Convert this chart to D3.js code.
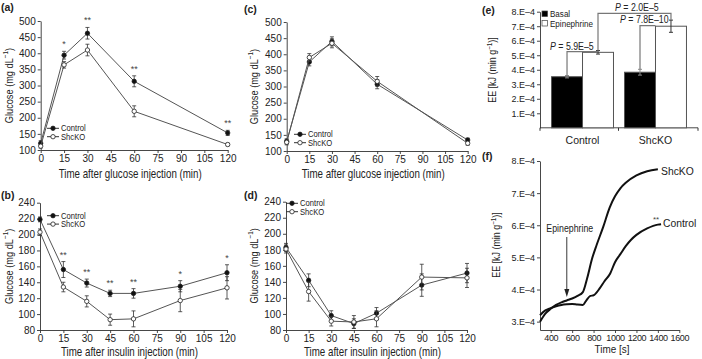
<!DOCTYPE html>
<html>
<head>
<meta charset="utf-8">
<script src="https://cdn.jsdelivr.net/npm/d3@7"></script>
<style>
  body { margin: 0; background: #fff; }
  svg { display: block; font-family: "Liberation Sans", Arial, sans-serif; }
</style>
</head>
<body>
<svg id="fig" width="702" height="359"></svg>
<script>
// ---- data ----
const timesGTT = [0, 15, 30, 60, 120]
const timesITT = [0, 15, 30, 45, 60, 90, 120]

// (a) GTT
const ctrlA = [121, 394, 462, 313, 153]
const ctrlAErr = [8, 12, 18, 17, 8]
const koA = [112, 364, 410, 220, 117]
const koAErr = [6, 10, 18, 17, 4]
const starsA = ["", "*", "**", "**", "**"]

// (b) ITT
const ctrlB = [219, 156, 139, 126, 126, 135, 152]
const ctrlBErr = [3, 10, 5, 4, 6, 7, 10]
const koB = [203, 134, 116, 93, 94, 117, 133]
const koBErr = [4, 6, 7, 7, 10, 14, 14]
const starsB = ["", "**", "**", "**", "**", "*", "*"]

// (c) GTT
const ctrlC = [130, 376, 440, 307, 134]
const ctrlCErr = [8, 12, 14, 14, 6]
const koC = [127, 390, 434, 316, 124]
const koCErr = [8, 12, 14, 15, 6]

// (d) ITT
const ctrlD = [183, 142, 98, 88, 101, 136, 151]
const ctrlDErr = [5, 8, 6, 6, 7, 14, 12]
const koD = [181, 128, 91, 90, 94, 146, 145]
const koDErr = [5, 12, 6, 8, 10, 16, 12]

// (e) energy expenditure bars
const groupsE = ["Control", "ShcKO"]
const basalE = [3.52e-4, 3.83e-4]
const basalEErr = [0.08e-4, 0.2e-4]
const epiE = [5.2e-4, 7.0e-4]
const epiEErr = [0.12e-4, 0.42e-4]
const pLabels = ["P = 5.9E\u20135", "P = 2.0E\u20135", "P = 7.8E\u201310"]

// (f) traces
const timeFKo = [300, 350, 400, 450, 500, 550, 600, 650, 700, 740, 785, 830, 890, 950, 1000, 1050, 1100, 1200, 1300, 1400]
const eeFKo = [3.0, 3.25, 3.4, 3.52, 3.6, 3.66, 3.72, 3.8, 3.92, 4.35, 4.95, 5.4, 5.95, 6.55, 6.9, 7.15, 7.32, 7.55, 7.68, 7.74].map(v => v * 1e-4)
const timeFCtrl = [300, 350, 400, 450, 500, 550, 600, 650, 700, 730, 770, 800, 860, 900, 955, 1000, 1050, 1100, 1150, 1200, 1300, 1400, 1430]
const eeFCtrl = [3.2, 3.35, 3.42, 3.48, 3.52, 3.54, 3.55, 3.53, 3.52, 3.65, 3.8, 3.82, 4.05, 4.25, 4.5, 4.85, 5.1, 5.35, 5.55, 5.7, 5.9, 6.02, 6.03].map(v => v * 1e-4)

const svg = d3.select("#fig")
const ink = "#222", lineCol = "#555"

// text that can be squeezed horizontally (the figure uses a narrow face)
function stext(g, x, y, str, size, sx, anchor = "start", rot = 0) {
  const t = g.append("g")
    .attr("transform", `translate(${x},${y}) rotate(${rot}) scale(${sx},1)`)
    .append("text")
    .attr("font-size", size)
    .attr("fill", ink)
    .attr("text-anchor", anchor)
  return t
}

function glucoseLabel(t) {
  t.append("tspan").text("Glucose (mg dL")
  t.append("tspan").attr("font-size", "0.7em").attr("dy", -5).text("\u22121")
  t.append("tspan").attr("dy", 5).text(")")
}

function eeLabel(t) {
  t.append("tspan").text("EE [kJ (min g")
  t.append("tspan").attr("font-size", "0.7em").attr("dy", -4).text("\u22121")
  t.append("tspan").attr("dy", 4).text(")]")
}

function styleAxis(g) {
  g.selectAll("path, line").attr("stroke", "#333").attr("stroke-width", 0.9)
  g.selectAll("text").attr("fill", ink).attr("font-size", 10).attr("font-family", null)
}

// line panel (a)-(d)
function drawPanel(cfg) {
  const g = svg.append("g")
  const x = d3.scaleLinear().domain([0, 120]).range(cfg.xr)
  const y = d3.scaleLinear().domain(cfg.yd).range(cfg.yr)

  g.append("g").attr("transform", `translate(0,${cfg.yr[0]})`)
    .call(d3.axisBottom(x).tickValues(d3.range(0, 121, 15)).tickSize(3).tickSizeOuter(0).tickPadding(2))
    .call(styleAxis)
  g.append("g").attr("transform", `translate(${cfg.xr[0]},0)`)
    .call(d3.axisLeft(y).tickValues(cfg.yt).tickSize(3).tickSizeOuter(0).tickPadding(2))
    .call(styleAxis)

  const line = d3.line().x(d => x(d[0])).y(d => y(d[1]))
  const series = [
    { v: cfg.ctrl, e: cfg.ctrlErr, fill: "#111" },
    { v: cfg.ko, e: cfg.koErr, fill: "#fff" }
  ]
  series.forEach(s => {
    const pts = cfg.t.map((t, i) => [t, s.v[i], s.e[i]])
    g.append("path").attr("d", line(pts)).attr("fill", "none").attr("stroke", lineCol).attr("stroke-width", 1)
    const eb = g.append("g").attr("stroke", "#333").attr("stroke-width", 0.8)
    pts.forEach(p => {
      eb.append("line").attr("x1", x(p[0])).attr("x2", x(p[0])).attr("y1", y(p[1] - p[2])).attr("y2", y(p[1] + p[2]))
      ;[p[1] - p[2], p[1] + p[2]].forEach(v =>
        eb.append("line").attr("x1", x(p[0]) - 2).attr("x2", x(p[0]) + 2).attr("y1", y(v)).attr("y2", y(v)))
    })
    g.selectAll(null).data(pts).join("circle")
      .attr("cx", d => x(d[0])).attr("cy", d => y(d[1])).attr("r", 2.2)
      .attr("fill", s.fill).attr("stroke", "#222").attr("stroke-width", 0.8)
  })

  if (cfg.stars) {
    cfg.t.forEach((t, i) => {
      if (!cfg.stars[i]) return
      g.append("text").attr("x", x(t)).attr("y", y(cfg.ctrl[i] + cfg.ctrlErr[i]) - 4)
        .attr("text-anchor", "middle").attr("font-size", 9).attr("fill", "#444").text(cfg.stars[i])
    })
  }

  // legend
  ;[["Control", "#111"], ["ShcKO", "#fff"]].forEach((l, i) => {
    const ly = cfg.leg[1] + i * 8.4
    g.append("line").attr("x1", cfg.leg[0] - 6).attr("x2", cfg.leg[0] + 6).attr("y1", ly).attr("y2", ly)
      .attr("stroke", "#333").attr("stroke-width", 1)
    g.append("circle").attr("cx", cfg.leg[0]).attr("cy", ly).attr("r", 2.2)
      .attr("fill", l[1]).attr("stroke", "#222").attr("stroke-width", 0.8)
    stext(g, cfg.leg[0] + 8, ly + 3, "", 9, 0.85).text(l[0])
  })

  // titles
  stext(g, (cfg.xr[0] + cfg.xr[1]) / 2 - 4, cfg.titleY, "", 12.5, 0.78, "middle").text(cfg.title)
  glucoseLabel(stext(g, cfg.ylx, (cfg.yr[0] + cfg.yr[1]) / 2, "", 11.5, 0.8, "middle", -90))
  g.append("text").attr("x", cfg.pl[0]).attr("y", cfg.pl[1]).attr("font-size", 10.5)
    .attr("font-weight", "bold").attr("fill", ink).text(cfg.panel)
}

drawPanel({ t: timesGTT, ctrl: ctrlA, ctrlErr: ctrlAErr, ko: koA, koErr: koAErr, stars: starsA,
  xr: [40.7, 227.7], yd: [100, 500], yr: [150, 21], yt: d3.range(100, 501, 50),
  leg: [53, 128.3], title: "Time after glucose injection (min)", titleY: 177.5, ylx: 12.5, pl: [1, 11], panel: "(a)" })
drawPanel({ t: timesITT, ctrl: ctrlB, ctrlErr: ctrlBErr, ko: koB, koErr: koBErr, stars: starsB,
  xr: [40, 227], yd: [80, 240], yr: [330, 202.7], yt: d3.range(80, 241, 20),
  leg: [53, 215.7], title: "Time after insulin injection (min)", titleY: 356, ylx: 12.5, pl: [1, 199], panel: "(b)" })
drawPanel({ t: timesGTT, ctrl: ctrlC, ctrlErr: ctrlCErr, ko: koC, koErr: koCErr,
  xr: [286.7, 467.7], yd: [100, 500], yr: [151, 22], yt: d3.range(100, 501, 50),
  leg: [300, 134.3], title: "Time after glucose injection (min)", titleY: 177.5, ylx: 258, pl: [244, 13], panel: "(c)" })
drawPanel({ t: timesITT, ctrl: ctrlD, ctrlErr: ctrlDErr, ko: koD, koErr: koDErr,
  xr: [286, 467], yd: [80, 240], yr: [330, 201.7], yt: d3.range(80, 241, 20),
  leg: [292, 203.3], title: "Time after insulin injection (min)", titleY: 356, ylx: 258, pl: [244, 199], panel: "(d)" })

// ---- (e) bars ----
const eFmt = d => `${Math.round(d / 1e-4)}.E\u20134`
{
  const g = svg.append("g")
  const y = d3.scaleLinear().domain([0, 8e-4]).range([127.8, 11.7])
  const x0 = d3.scaleBand().domain(groupsE).range([540, 698]).paddingInner(0.151).paddingOuter(0.158)
  const x1 = d3.scaleBand().domain(["basal", "epi"]).range([0, x0.bandwidth()])

  g.append("g").attr("transform", "translate(540,0)")
    .call(d3.axisLeft(y).tickValues(d3.range(1, 9).map(v => v * 1e-4)).tickFormat(eFmt).tickSize(3).tickSizeOuter(0).tickPadding(2))
    .call(styleAxis)
  g.selectAll(".tick text").attr("font-size", 9)
  g.append("line").attr("x1", 540).attr("x2", 698).attr("y1", y(0)).attr("y2", y(0)).attr("stroke", "#333").attr("stroke-width", 0.9)
  ;[540, 618.5, 698].forEach(v => g.append("line").attr("x1", v).attr("x2", v).attr("y1", y(0)).attr("y2", y(0) + 3).attr("stroke", "#333"))

  const bars = groupsE.map((k, i) => [
    { k, s: "basal", v: basalE[i], e: basalEErr[i], fill: "#000" },
    { k, s: "epi", v: epiE[i], e: epiEErr[i], fill: "#fff" }
  ]).flat()
  g.selectAll(null).data(bars).join("rect")
    .attr("x", d => x0(d.k) + x1(d.s)).attr("width", x1.bandwidth())
    .attr("y", d => y(d.v)).attr("height", d => y(0) - y(d.v))
    .attr("fill", d => d.fill).attr("stroke", "#555").attr("stroke-width", 1)
  const cx = d => x0(d.k) + x1(d.s) + x1.bandwidth() / 2
  bars.forEach(d => {
    const c = d.s === "basal" ? "#888" : "#333"
    g.append("line").attr("x1", cx(d)).attr("x2", cx(d)).attr("y1", y(d.v - d.e)).attr("y2", y(d.v + d.e)).attr("stroke", c)
    ;[d.v - d.e, d.v + d.e].forEach(v => g.append("line").attr("x1", cx(d) - 2).attr("x2", cx(d) + 2).attr("y1", y(v)).attr("y2", y(v)).attr("stroke", c))
  })
  groupsE.forEach(k => g.append("text").attr("x", x0(k) + x0.bandwidth() / 2).attr("y", 143.5)
    .attr("text-anchor", "middle").attr("font-size", 10.5).attr("fill", ink).text(k))

  // significance brackets
  const br = "#777"
  const cB = cx(bars[0]), cE = cx(bars[1]), kB = cx(bars[2]), kE = cx(bars[3])
  const path = (pts) => g.append("path").attr("d", d3.line()(pts)).attr("fill", "none").attr("stroke", br).attr("stroke-width", 1.2)
  path([[cB, y(basalE[0] + basalEErr[0])], [cB, 51.7], [cE, 51.7]])
  path([[cE, y(epiE[0] + epiEErr[0])], [cE, 13.3], [kE, 13.3], [kE, y(epiE[1] + epiEErr[1])]])
  path([[kB, y(basalE[1] + basalEErr[1])], [kB, 25.7], [kE - x1.bandwidth() / 2, 25.7]])
  const pText = (x, yy, s) => {
    const t = stext(g, x, yy, "", 10, 0.88, "start")
    t.append("tspan").attr("font-style", "italic").text("P")
    t.append("tspan").text(s.slice(1))
  }
  pText(550, 49.5, pLabels[0])
  pText(615, 10.5, pLabels[1])
  pText(620, 22.5, pLabels[2])

  // legend
  ;[["Basal", "#000"], ["Epinephrine", "#fff"]].forEach((l, i) => {
    const ly = 14 + i * 9.5
    g.append("rect").attr("x", 542).attr("y", ly - 3).attr("width", 5.5).attr("height", 5.5)
      .attr("fill", l[1]).attr("stroke", "#444").attr("stroke-width", 0.7)
    stext(g, 550, ly + 3, "", 9.5, 0.85).text(l[0])
  })
  eeLabel(stext(g, 496, 70, "", 10.5, 0.85, "middle", -90))
  g.append("text").attr("x", 482).attr("y", 14).attr("font-size", 10.5).attr("font-weight", "bold").attr("fill", ink).text("(e)")
}

// ---- (f) traces ----
{
  const g = svg.append("g")
  const x = d3.scaleLinear().domain([300, 1600]).range([540, 679.3])
  const y = d3.scaleLinear().domain([2.74e-4, 8e-4]).range([330, 161])

  const xAx = g.append("g").attr("transform", "translate(0,330)")
    .call(d3.axisBottom(x).tickValues(d3.range(400, 1601, 200)).tickFormat(d3.format("d")).tickSize(3).tickSizeOuter(0).tickPadding(2))
    .call(styleAxis)
  xAx.selectAll(".tick text").attr("font-size", 9).attr("letter-spacing", -0.4)
  const yAx = g.append("g").attr("transform", "translate(540,0)")
    .call(d3.axisLeft(y).tickValues(d3.range(3, 9).map(v => v * 1e-4)).tickFormat(eFmt).tickSize(3).tickSizeOuter(0).tickPadding(2))
    .call(styleAxis)
  yAx.selectAll(".tick text").attr("font-size", 9)

  const line = d3.line().x(d => x(d[0])).y(d => y(d[1])).curve(d3.curveMonotoneX)
  ;[[timeFKo, eeFKo], [timeFCtrl, eeFCtrl]].forEach(s => {
    g.append("path").attr("d", line(s[0].map((t, i) => [t, s[1][i]])))
      .attr("fill", "none").attr("stroke", "#111").attr("stroke-width", 2)
  })
  stext(g, 661, 174.5, "", 11.5, 0.9).text("ShcKO")
  stext(g, 663, 226.5, "", 11.5, 0.9).text("Control")
  g.append("text").attr("x", 653).attr("y", 222).attr("font-size", 8).attr("fill", "#444").text("**")

  const ax = x(550)
  stext(g, ax + 3, 232, "", 10, 0.88, "middle").text("Epinephrine")
  g.append("line").attr("x1", ax).attr("x2", ax).attr("y1", 237).attr("y2", 292).attr("stroke", "#222").attr("stroke-width", 0.9)
  g.append("path").attr("d", `M${ax - 2.5},289 L${ax + 2.5},289 L${ax},297 Z`).attr("fill", "#222")

  stext(g, 612, 353, "", 11, 0.9, "middle").text("Time [s]")
  eeLabel(stext(g, 500, 245, "", 10.5, 0.85, "middle", -90))
  g.append("text").attr("x", 482).attr("y", 160).attr("font-size", 10.5).attr("font-weight", "bold").attr("fill", ink).text("(f)")
}
</script>
</body>
</html>
